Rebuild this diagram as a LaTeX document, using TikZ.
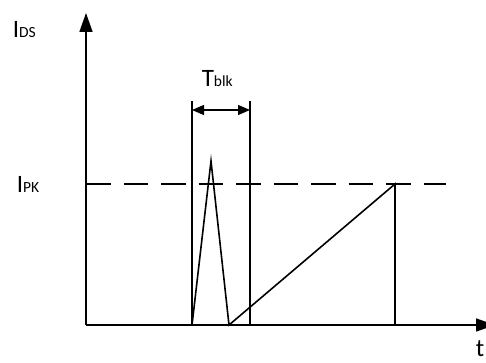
\documentclass[tikz,border=0pt]{standalone}
\usepackage{fontspec}
\setmainfont{Carlito}
\usepackage{tikz}
\usetikzlibrary{arrows.meta}
\newcommand{\lowtxt}[1]{{\fontsize{15.5}{16}\selectfont #1}}

\begin{document}
\begin{tikzpicture}[x=1pt, y=-1pt, line width=1.6pt,
    lbl/.style={anchor=base west, inner sep=0pt, font=\fontsize{25}{26}\selectfont},
    axisarrow/.style={-{Triangle[length=19pt, width=13pt]}}]
  \useasboundingbox (0,0) rectangle (486,363);

  % axes
  \coordinate (origin) at (86,325);
  \coordinate (ytip) at (86,13);
  \coordinate (xtip) at (495,325);
  \draw[axisarrow] (origin) -- (ytip);
  \draw[axisarrow] (origin) -- (xtip);

  \node[lbl] (ids) at (12,38) {I\lowtxt{DS}};
  \node[lbl] (ipk) at (16,193) {I\lowtxt{PK}};
  \node[lbl] (tlbl) at (475,356) {t};

  % peak level
  \coordinate (pkL) at (86,184);
  \coordinate (pkR) at (446,184);
  \draw[dash pattern=on 24.5pt off 13pt] (pkL) -- (pkR);

  % blanking window
  \coordinate (blkLb) at (192,325);
  \coordinate (blkLt) at (192,101);
  \coordinate (blkRb) at (250,325);
  \coordinate (blkRt) at (250,101);
  \draw (blkLb) -- (blkLt);
  \draw (blkRb) -- (blkRt);
  \coordinate (blkA) at (192,110);
  \coordinate (blkB) at (250,110);
  \draw[{Triangle[length=12pt, width=10pt]}-{Triangle[length=12pt, width=10pt]}, line width=1.3pt] (blkA) -- (blkB);
  \node[lbl] (tblk) at (201,87) {T\lowtxt{blk}};

  % spike and ramp
  \coordinate (spk) at (211,161);
  \coordinate (rampS) at (229,325);
  \coordinate (rampE) at (395,184);
  \coordinate (rampB) at (395,325);
  \draw[line join=miter] (blkLb) -- (spk) -- (rampS) -- (rampE) -- (rampB);
\end{tikzpicture}
\end{document}
